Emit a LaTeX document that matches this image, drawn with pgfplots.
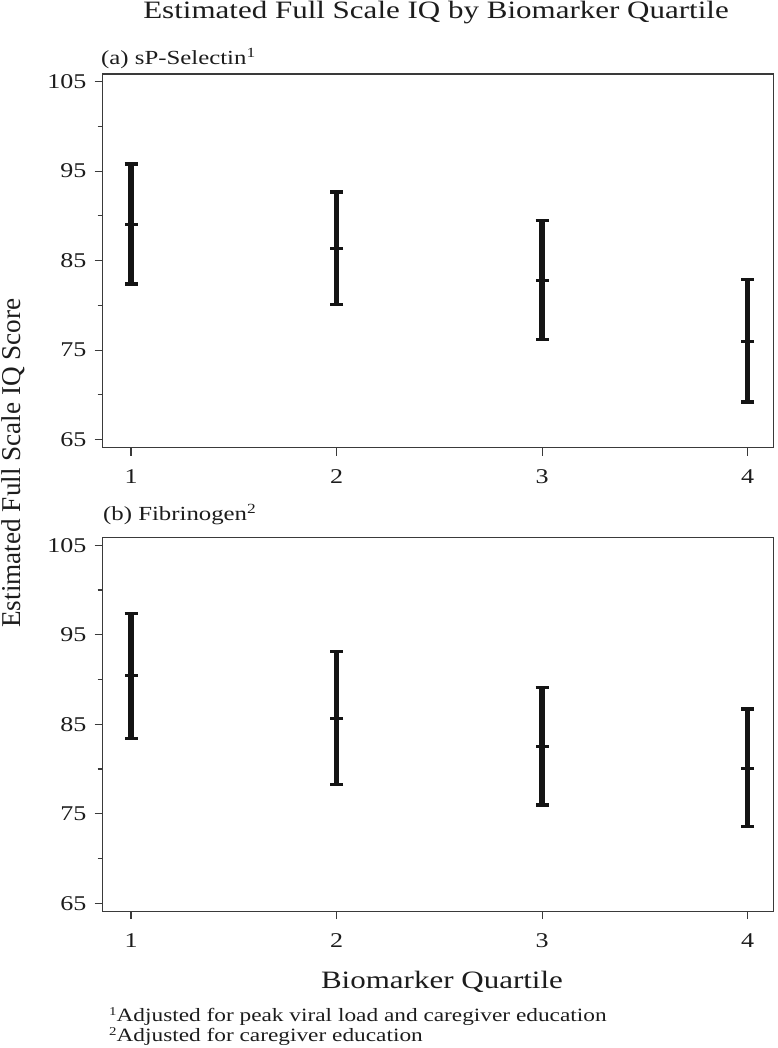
\documentclass[border=0pt]{standalone}
\usepackage{fontspec}
\setmainfont{Liberation Serif}[FakeStretch=1.24]
\newfontfamily\ylabfont{Liberation Serif}
\usepackage{pgfplots}
\usepackage{pgfplotstable}
\pgfplotsset{compat=1.18}

\definecolor{axgray}{HTML}{3A3A3A}
\definecolor{barblack}{HTML}{141414}
\definecolor{txt}{HTML}{1C1C1C}

\pgfplotstableread{
q est ep em
1 89.0 6.8 6.6
2 86.4 6.25 6.3
3 82.75 6.75 6.55
4 76.0 6.9 6.8
}\topdata

\pgfplotstableread{
q est ep em
1 90.4 7.0 7.0
2 85.7 7.4 7.4
3 82.5 6.6 6.5
4 80.1 6.6 6.5
}\botdata

\pgfplotsset{panel/.style={
  scale only axis, width=670.6pt, height=373.5pt,
  xmin=0.862, xmax=4.125, ymin=64.12, ymax=105.85,
  xtick={1,2,3,4}, ytick={65,75,85,95,105}, minor ytick={70,80,90,100},
  tick pos=left, tick align=outside,
  major tick length=8pt, minor tick length=5pt,
  axis line style={axgray, line width=1.3pt},
  every tick/.style={axgray, line width=1.2pt},
  ticklabel style={font=\fontsize{21}{21}\selectfont, text=txt, inner sep=0pt},
  /pgf/number format/assume math mode=true,
  xticklabel shift=14pt, yticklabel shift=8pt,
  clip=false,
},
errplot/.style={only marks, mark=-, mark size=6.5pt, barblack,
  mark options={line width=3pt, barblack},
  error bars/.cd, y dir=both, y explicit, error mark=|,
  error bar style={line width=5.5pt, barblack},
  error mark options={line width=3.3pt, mark size=6.5pt, barblack}}
}

\begin{document}
\begin{tikzpicture}[x=1pt,y=1pt]
\useasboundingbox (0,0) rectangle (777,-1048);

\node[anchor=base, inner sep=0pt, font=\fontsize{25}{25}\selectfont, text=txt] at (436,-18.5) {Estimated Full Scale IQ by Biomarker Quartile};

\node[anchor=base west, inner sep=0pt, font=\fontsize{20}{20}\selectfont, text=txt] at (101,-65) {(a) sP-Selectin\textsuperscript{1}};

\begin{axis}[panel, at={(102.7pt,-74pt)}, anchor=north west]
\addplot[errplot] table[x=q, y=est, y error plus=ep, y error minus=em] \topdata;
\end{axis}

\node[anchor=base west, inner sep=0pt, font=\fontsize{20}{20}\selectfont, text=txt] at (103,-520.7) {(b) Fibrinogen\textsuperscript{2}};

\begin{axis}[panel, at={(102.7pt,-537.7pt)}, anchor=north west]
\addplot[errplot] table[x=q, y=est, y error plus=ep, y error minus=em] \botdata;
\end{axis}

\node[rotate=90, inner sep=0pt, font=\ylabfont\fontsize{27.2}{27.2}\selectfont, text=txt] at (13,-463) {Estimated Full Scale IQ Score};

\node[anchor=base, inner sep=0pt, font=\fontsize{25}{25}\selectfont, text=txt] at (442,-988) {Biomarker Quartile};

\node[anchor=base west, inner sep=0pt, font=\fontsize{18.8}{18.8}\selectfont, text=txt] at (109,-1021) {{\fontsize{12}{12}\selectfont\raisebox{6pt}{1}}Adjusted for peak viral load and caregiver education};
\node[anchor=base west, inner sep=0pt, font=\fontsize{18.8}{18.8}\selectfont, text=txt] at (109,-1041.7) {{\fontsize{12}{12}\selectfont\raisebox{6pt}{2}}Adjusted for caregiver education};
\end{tikzpicture}
\end{document}
